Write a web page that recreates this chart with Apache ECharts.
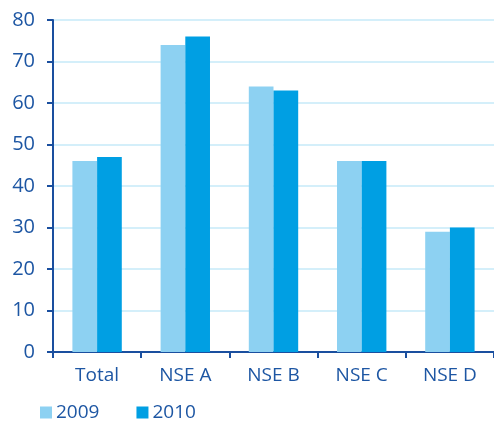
<!DOCTYPE html>
<html><head><meta charset="utf-8">
<script src="https://cdn.jsdelivr.net/npm/echarts@6/dist/echarts.min.js"></script>
<style>html,body{margin:0;padding:0;background:#fff}#c{width:494px;height:421px}</style>
</head><body><div id="c"></div>
<script>
const categories = ['Total', 'NSE A', 'NSE B', 'NSE C', 'NSE D'];
const values2009 = [46, 74, 64, 46, 29];
const values2010 = [47, 76, 63, 46, 30];
const yTicks = [0, 10, 20, 30, 40, 50, 60, 70, 80];

const axisCol = '#1a4f9f';
const textCol = '#1d56a3';
const font = 'Open Sans';
const chart = echarts.init(document.getElementById('c'));
chart.setOption({
  animation: false,
  textStyle: { fontFamily: font },
  legend: {
    left: 40, bottom: -1, padding: 0, itemWidth: 12, itemHeight: 12, itemGap: 37,
    icon: 'rect',
    textStyle: { color: textCol, fontSize: 19, fontFamily: font, padding: [0, 0, 0, -1] },
    data: ['2009', '2010']
  },
  grid: { left: 53, right: 0, top: 20, bottom: 69, containLabel: false },
  xAxis: {
    type: 'category', data: categories,
    axisLine: { lineStyle: { color: axisCol, width: 2 } },
    axisTick: { show: true, length: 6, lineStyle: { color: axisCol, width: 2 } },
    axisLabel: { color: textCol, fontSize: 19, fontFamily: font, margin: 14 }
  },
  yAxis: {
    type: 'value', min: yTicks[0], max: yTicks[yTicks.length - 1], interval: 10,
    axisLine: { show: true, lineStyle: { color: axisCol, width: 2 } },
    axisTick: { show: true, length: 6, lineStyle: { color: axisCol, width: 2 } },
    axisLabel: { color: textCol, fontSize: 20, fontFamily: font, margin: 18 },
    splitLine: { lineStyle: { color: '#c6eaf9', width: 1.5 } }
  },
  series: [
    { name: '2009', type: 'bar', data: values2009, barGap: '0%', barCategoryGap: '44%',
      itemStyle: { color: '#8dd1f2' } },
    { name: '2010', type: 'bar', data: values2010,
      itemStyle: { color: '#009fe3' } }
  ]
});
</script></body></html>
